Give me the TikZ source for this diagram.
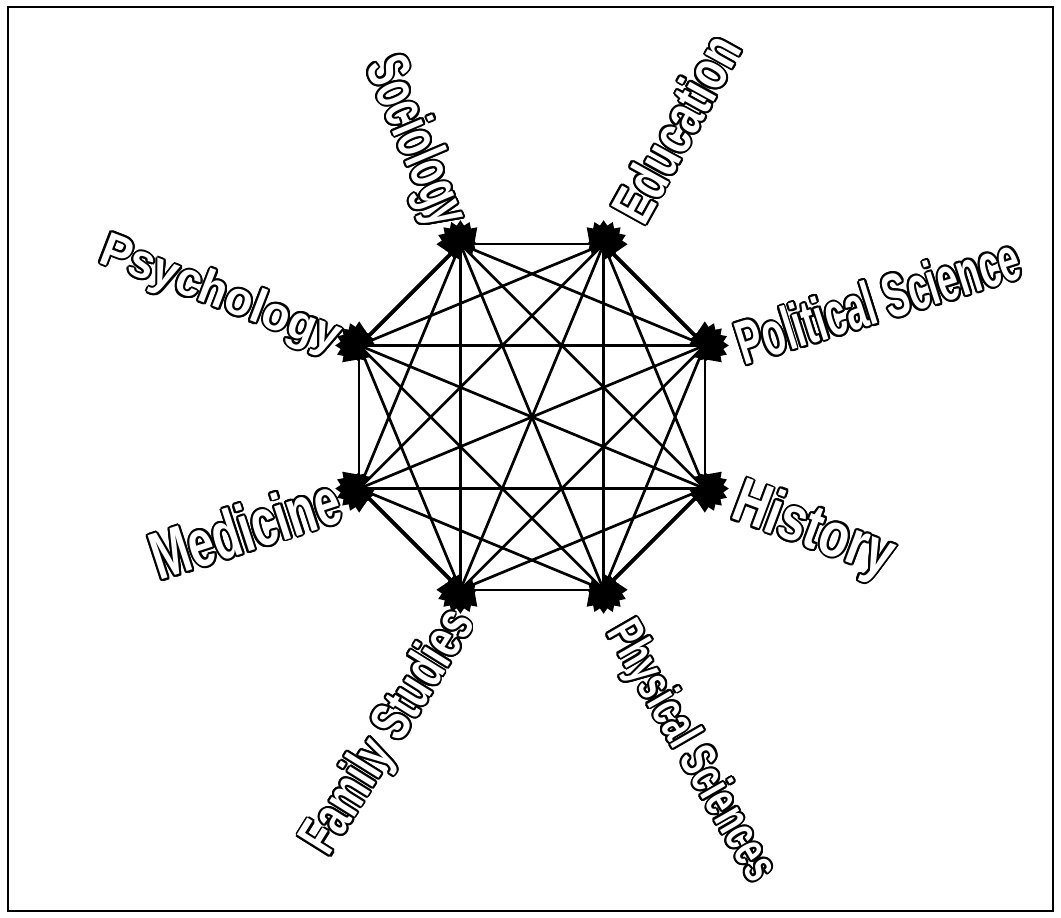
\documentclass[tikz,border=0pt]{standalone}
\usepackage{fontspec}
\usepackage{graphicx}
\newfontfamily\labfont{Liberation Sans}
\usetikzlibrary{arrows.meta}
\tikzset{
  x=1pt, y=-1pt,
  conn/.style={line width=2.7pt, {Triangle[length=24pt,width=32pt]}-{Triangle[length=24pt,width=32pt]}, shorten <=-24pt, shorten >=-24pt},
  sideline/.style={conn, line width=1.8pt},
  boldline/.style={conn, line width=4pt},
  lab/.style={inner sep=0pt, font=\labfont\bfseries},
}
\newcommand\hollow[7]{%
  \foreach \a in {0,22.5,...,337.5}{
    \node[lab, text=black, rotate=#4, xshift={2.0*cos(\a)}, yshift={2.0*sin(\a)}] at (#2,#3) {\fontsize{#5}{#5}\selectfont\scalebox{#6}[1]{#7}};
  }
  \node[lab, text=white, rotate=#4] (#1) at (#2,#3) {\fontsize{#5}{#5}\selectfont\scalebox{#6}[1]{#7}};
}
\begin{document}
\begin{tikzpicture}
\useasboundingbox (0,0) rectangle (1061,918);
\fill[white] (0,0) rectangle (1061,918);
\draw[line width=2pt] (8,7) rectangle (1053,911);

\coordinate (vA) at (460.4,244.2);
\coordinate (vB) at (603.6,244.2);
\coordinate (vC) at (704.8,345.4);
\coordinate (vD) at (704.8,488.6);
\coordinate (vE) at (603.6,589.8);
\coordinate (vF) at (460.4,589.8);
\coordinate (vG) at (359.2,488.6);
\coordinate (vH) at (359.2,345.4);

% sides
\draw[sideline] (vA) -- (vB);
\draw[boldline] (vB) -- (vC);
\draw[sideline] (vC) -- (vD);
\draw[boldline] (vD) -- (vE);
\draw[sideline] (vE) -- (vF);
\draw[boldline] (vF) -- (vG);
\draw[sideline] (vG) -- (vH);
\draw[boldline] (vH) -- (vA);
% diagonals
\draw[conn] (vA) -- (vC);
\draw[conn] (vA) -- (vD);
\draw[conn] (vA) -- (vE);
\draw[conn] (vA) -- (vF);
\draw[conn] (vA) -- (vG);
\draw[conn] (vB) -- (vD);
\draw[conn] (vB) -- (vE);
\draw[conn] (vB) -- (vF);
\draw[conn] (vB) -- (vG);
\draw[conn] (vB) -- (vH);
\draw[conn] (vC) -- (vE);
\draw[conn] (vC) -- (vF);
\draw[conn] (vC) -- (vG);
\draw[conn] (vC) -- (vH);
\draw[conn] (vD) -- (vF);
\draw[conn] (vD) -- (vG);
\draw[conn] (vD) -- (vH);
\draw[conn] (vE) -- (vG);
\draw[conn] (vE) -- (vH);
\draw[conn] (vF) -- (vH);

% labels
\hollow{lsoc}{414}{142}{-67}{60}{0.62}{Sociology}
\hollow{ledu}{676}{128}{61}{57}{0.74}{Education}
\hollow{lpol}{878}{300}{17.5}{62}{0.60}{Political Science}
\hollow{lhis}{813}{532}{-20.5}{63}{0.77}{History}
\hollow{lphy}{690}{752}{-60}{50}{0.67}{Physical Sciences}
\hollow{lfam}{390}{733}{58}{56}{0.70}{Family Studies}
\hollow{lmed}{245}{528}{18}{67}{0.68}{Medicine}
\hollow{lpsy}{220}{296}{-21}{48}{0.94}{Psychology}
\end{tikzpicture}
\end{document}
